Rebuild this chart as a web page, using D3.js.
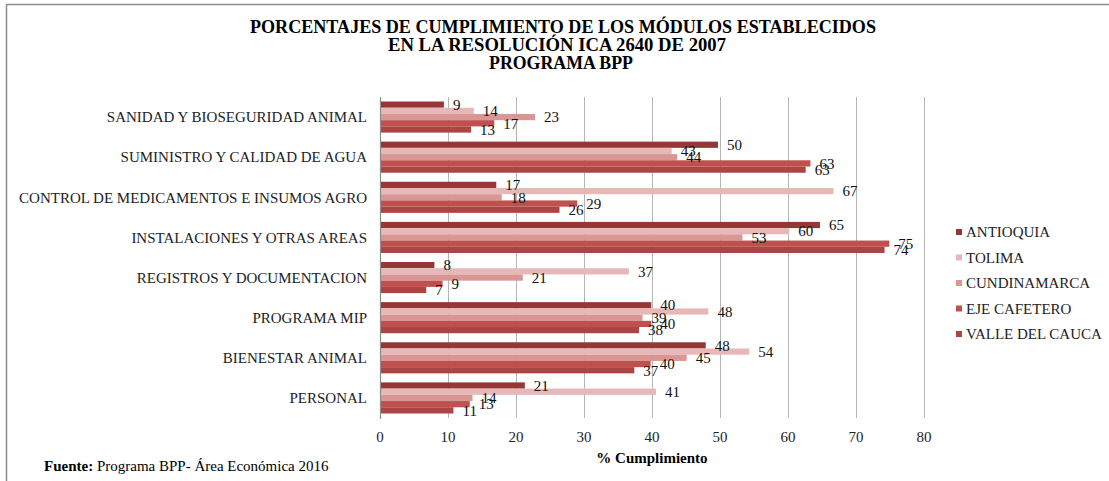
<!DOCTYPE html>
<html>
<head>
<meta charset="utf-8">
<script src="https://cdn.jsdelivr.net/npm/d3@7"></script>
<style>
  body { margin: 0; background: #fff; }
  svg { display: block; }
  svg text { font-family: "Liberation Serif", serif; }
</style>
</head>
<body>
<script>
// categories, top to bottom
const categories = [
  "SANIDAD Y BIOSEGURIDAD ANIMAL",
  "SUMINISTRO Y CALIDAD DE AGUA",
  "CONTROL DE MEDICAMENTOS E INSUMOS AGRO",
  "INSTALACIONES Y OTRAS AREAS",
  "REGISTROS Y DOCUMENTACION",
  "PROGRAMA MIP",
  "BIENESTAR ANIMAL",
  "PERSONAL"
]
const seriesNames = ["ANTIOQUIA", "TOLIMA", "CUNDINAMARCA", "EJE CAFETERO", "VALLE DEL CAUCA"]
const seriesColors = ["#953735", "#E6B9B8", "#D99694", "#C0504D", "#AB4543"]

// values per region, same order as categories
const antioquia    = [9.4, 49.7, 17.1, 64.7, 8.0, 39.9, 47.9, 21.3]
const tolima       = [13.8, 42.9, 66.7, 60.2, 36.6, 48.3, 54.3, 40.6]
const cundinamarca = [22.8, 43.7, 17.9, 53.3, 21.0, 38.6, 45.1, 13.6]
const ejeCafetero  = [16.8, 63.3, 29.0, 74.9, 9.2, 39.9, 39.8, 13.2]
const valle        = [13.4, 62.6, 26.4, 74.2, 6.8, 38.1, 37.4, 10.8]
const seriesValues = [antioquia, tolima, cundinamarca, ejeCafetero, valle]

const xTicks = [0, 10, 20, 30, 40, 50, 60, 70, 80]
const titleLines = [
  "PORCENTAJES DE CUMPLIMIENTO DE LOS MÓDULOS ESTABLECIDOS",
  "EN LA RESOLUCIÓN ICA 2640 DE 2007",
  "PROGRAMA BPP"
]

const W = 1109, H = 481
const plot = {left: 380, right: 924, top: 97, bottom: 418}
const serif = "Liberation Serif, serif"
const fs = "15px"

const svg = d3.select("body").append("svg")
  .attr("width", W)
  .attr("height", H)
  .attr("font-family", serif)

// outer frame (top and left edges visible)
svg.append("path")
  .attr("d", `M6.5,${H} V4.5 H${W}`)
  .attr("fill", "none")
  .attr("stroke", "#8c8c8c")
  .attr("stroke-width", 1.5)

// title, three centred lines
const titleX = [563, 557, 561]
const titleY = [33, 50.5, 69]
const titleWidths = [626, 338, 144]
svg.selectAll("text.title")
  .data(titleLines)
  .enter()
  .append("text")
  .attr("class", "title")
  .attr("x", (d, i) => titleX[i])
  .attr("y", (d, i) => titleY[i])
  .attr("text-anchor", "middle")
  .attr("font-family", serif)
  .attr("font-weight", "bold")
  .attr("font-size", "19px")
  .attr("textLength", (d, i) => titleWidths[i])
  .attr("lengthAdjust", "spacingAndGlyphs")
  .text(d => d)

const xScale = d3.scaleLinear()
  .domain([0, 80])
  .range([plot.left, plot.right])

const yScale = d3.scaleBand()
  .domain(categories)
  .range([plot.top, plot.bottom])
  .paddingInner(0.225)
  .paddingOuter(0.1125)

const inner = d3.scaleBand()
  .domain(d3.range(seriesNames.length))
  .range([0, yScale.bandwidth()])

// gridlines
svg.append("g")
  .selectAll("line")
  .data(xTicks.slice(1))
  .enter()
  .append("line")
  .attr("x1", d => xScale(d) + 0.5)
  .attr("x2", d => xScale(d) + 0.5)
  .attr("y1", plot.top)
  .attr("y2", plot.bottom)
  .attr("stroke", "#b5b5b5")
  .attr("stroke-width", 1)

// x tick labels
svg.append("g")
  .selectAll("text")
  .data(xTicks)
  .enter()
  .append("text")
  .attr("x", d => xScale(d))
  .attr("y", 437)
  .attr("dy", "0.35em")
  .attr("text-anchor", "middle")
  .attr("font-family", serif)
  .attr("font-size", fs)
  .attr("fill", "#222")
  .text(d => d)

// bars + labels
const rows = []
categories.forEach((c, ci) => {
  seriesValues.forEach((vals, si) => {
    rows.push({cat: c, s: si, v: vals[ci]})
  })
})

svg.append("g")
  .selectAll("rect")
  .data(rows)
  .enter()
  .append("rect")
  .attr("x", xScale(0))
  .attr("y", d => yScale(d.cat) + inner(d.s))
  .attr("width", d => xScale(d.v) - xScale(0))
  .attr("height", inner.bandwidth())
  .attr("fill", d => seriesColors[d.s])

svg.append("g")
  .selectAll("text")
  .data(rows)
  .enter()
  .append("text")
  .attr("x", d => xScale(d.v) + 9)
  .attr("y", d => yScale(d.cat) + inner(d.s) + inner.bandwidth() / 2)
  .attr("dy", "0.35em")
  .attr("font-family", serif)
  .attr("font-size", fs)
  .attr("fill", "#111")
  .text(d => d3.format(".0f")(d.v))

// left axis line
svg.append("line")
  .attr("x1", plot.left + 0.5)
  .attr("x2", plot.left + 0.5)
  .attr("y1", plot.top)
  .attr("y2", plot.bottom + 1)
  .attr("stroke", "#8c8c8c")
  .attr("stroke-width", 1.2)

// category labels
svg.append("g")
  .selectAll("text")
  .data(categories)
  .enter()
  .append("text")
  .attr("x", 367)
  .attr("y", d => yScale(d) + yScale.bandwidth() / 2)
  .attr("dy", "0.35em")
  .attr("text-anchor", "end")
  .attr("font-family", serif)
  .attr("font-size", fs)
  .attr("fill", "#222")
  .text(d => d)

// axis title
svg.append("text")
  .attr("x", (plot.left + plot.right) / 2)
  .attr("y", 458)
  .attr("dy", "0.35em")
  .attr("text-anchor", "middle")
  .attr("font-family", serif)
  .attr("font-weight", "bold")
  .attr("font-size", fs)
  .text("% Cumplimiento")

// source note
const src = svg.append("text")
  .attr("x", 44)
  .attr("y", 471)
  .attr("font-family", serif)
  .attr("font-size", fs)
src.append("tspan").attr("font-weight", "bold").text("Fuente:")
src.append("tspan").text(" Programa BPP- Área Económica 2016")

// legend
const legend = svg.append("g")
  .selectAll("g")
  .data(seriesNames)
  .enter()
  .append("g")
  .attr("transform", (d, i) => `translate(956, ${232 + i * 25.5})`)

legend.append("rect")
  .attr("x", 0)
  .attr("y", -3)
  .attr("width", 6)
  .attr("height", 6)
  .attr("fill", (d, i) => seriesColors[i])

legend.append("text")
  .attr("x", 10)
  .attr("y", 0)
  .attr("dy", "0.35em")
  .attr("font-family", serif)
  .attr("font-size", fs)
  .attr("fill", "#222")
  .text(d => d)
</script>
</body>
</html>
